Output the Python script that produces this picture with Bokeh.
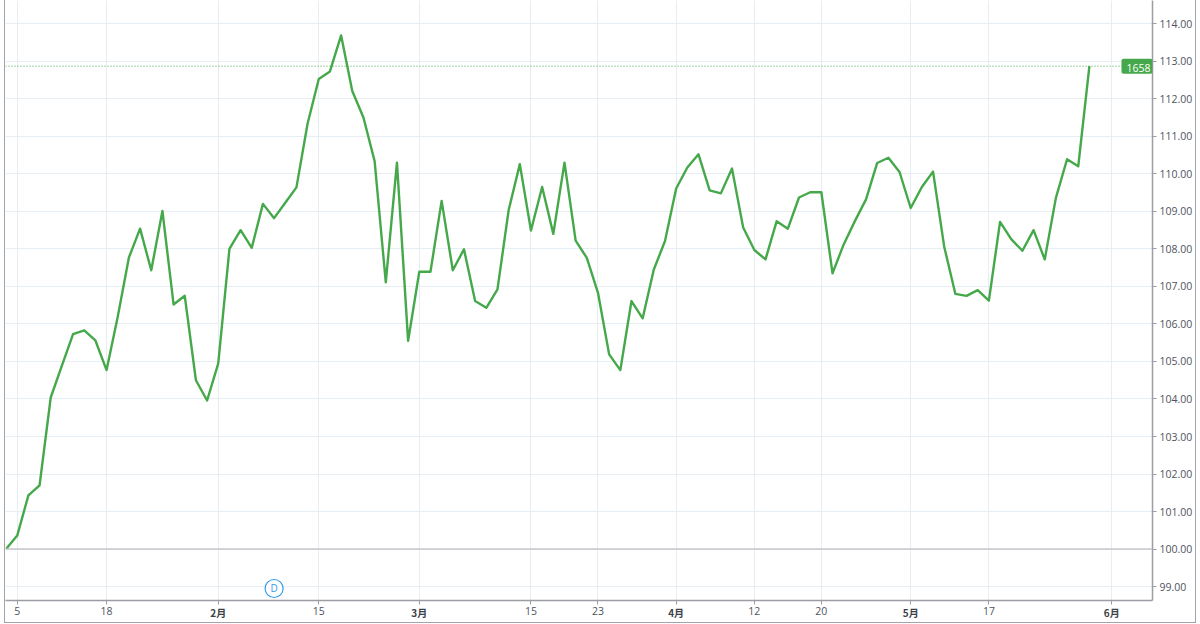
import pandas as pd
from bokeh.plotting import figure
from bokeh.models import FixedTicker, Range1d, Span, Label, NumeralTickFormatter, LinearAxis
from bokeh.core.properties import value
from bokeh.embed import file_html
from bokeh.resources import INLINE

# ---------------- data ----------------
jp_holidays = ["2021-01-11", "2021-02-11", "2021-02-23", "2021-04-29",
               "2021-05-03", "2021-05-04", "2021-05-05"]
calendar = [d.strftime("%Y-%m-%d") for d in pd.bdate_range("2021-01-04", "2021-06-04")
            if d.strftime("%Y-%m-%d") not in jp_holidays]

values = [100.00, 100.36, 101.43, 101.70, 104.04, 104.89, 105.73, 105.83, 105.56, 104.77,
          106.19, 107.77, 108.54, 107.43, 109.01, 106.52, 106.75, 104.50, 103.96, 104.95,
          108.00, 108.50, 108.03, 109.20, 108.82, 109.23, 109.64, 111.34, 112.53, 112.73,
          113.69, 112.21, 111.50, 110.34, 107.11, 110.30, 105.55, 107.39, 107.39, 109.28,
          107.43, 107.99, 106.61, 106.43, 106.92, 109.03, 110.26, 108.49, 109.65, 108.40,
          110.30, 108.22, 107.76, 106.83, 105.19, 104.77, 106.61, 106.15, 107.45, 108.21,
          109.61, 110.17, 110.52, 109.56, 109.48, 110.14, 108.57, 107.97, 107.72, 108.74,
          108.54, 109.37, 109.51, 109.51, 107.35, 108.12, 108.74, 109.32, 110.29, 110.43,
          110.05, 109.09, 109.65, 110.06, 108.06, 106.80, 106.75, 106.90, 106.62, 108.72,
          108.26, 107.95, 108.50, 107.72, 109.36, 110.39, 110.20, 112.87]
dates = calendar[:len(values)]

tick_dates = ["2021-01-05", "2021-01-18", "2021-02-01", "2021-02-15", "2021-03-01",
              "2021-03-15", "2021-03-23", "2021-04-01", "2021-04-12", "2021-04-20",
              "2021-05-06", "2021-05-17", "2021-06-01"]
tick_labels = ["5", "18", "2月", "15", "3月", "15", "23", "4月", "12", "20", "5月", "17", "6月"]
month_labels = ["2月", "3月", "4月", "5月", "6月"]

y_ticks = list(range(99, 115))
symbol = "1658"
event_date = "2021-02-08"
event_text = "D"

# ---------------- layout / styles ----------------
X_START, X_END = -0.05, 102.65
Y_START, Y_END = 98.63, 114.62
GREEN = "#45a84a"
GRID = "#e6eef3"
AXIS = "#9c9ca4"
LABEL = "#50535e"
FONT = "Open Sans"
CJK = "Noto Sans CJK JP"

xs = list(range(len(values)))
tick_idx = [calendar.index(d) for d in tick_dates]
mon_idx = [i for i, t in zip(tick_idx, tick_labels) if t in month_labels]
event_idx = calendar.index(event_date)

p = figure(frame_width=1147, frame_height=600, output_backend="svg",
           toolbar_location=None, y_axis_location="right",
           x_range=Range1d(X_START, X_END), y_range=Range1d(Y_START, Y_END),
           min_border_left=0, min_border_top=0, min_border_right=43, min_border_bottom=21)
p.margin = (0, 0, 0, 4)
p.styles = {"border-left": "1.5px solid #a3a3ab",
            "border-right": "1.5px solid #a3a3ab",
            "border-bottom": "1.5px solid #a3a3ab"}
p.background_fill_color = "white"
p.border_fill_color = "white"
p.outline_line_color = None

# grid
p.xgrid.ticker = FixedTicker(ticks=tick_idx)
p.ygrid.ticker = FixedTicker(ticks=y_ticks)
p.xgrid.grid_line_color = GRID
p.ygrid.grid_line_color = GRID

# y axis (right)
ya = p.yaxis[0]
ya.ticker = FixedTicker(ticks=y_ticks)
ya.formatter = NumeralTickFormatter(format="0.00")
ya.axis_line_color = AXIS
ya.axis_line_width = 1.5
ya.major_tick_line_color = AXIS
ya.major_tick_out = 4
ya.major_tick_in = 0
ya.minor_tick_line_color = None
ya.major_label_text_font = FONT
ya.major_label_text_font_size = "10.5px"
ya.major_label_text_color = LABEL
ya.major_label_standoff = 3

# x axis (bottom) - day labels and all tick marks
xa = p.xaxis[0]
xa.ticker = FixedTicker(ticks=tick_idx)
xa.major_label_overrides = {i: ("" if t in month_labels else t) for i, t in zip(tick_idx, tick_labels)}
xa.axis_line_color = AXIS
xa.axis_line_width = 1.5
xa.major_tick_line_color = AXIS
xa.major_tick_out = 4
xa.major_tick_in = 0
xa.minor_tick_line_color = None
xa.major_label_text_font = FONT
xa.major_label_text_font_size = "10.5px"
xa.major_label_text_color = LABEL
xa.major_label_standoff = 2

# month labels in bold, drawn by a second axis pulled up onto the first
ma = LinearAxis(ticker=FixedTicker(ticks=mon_idx),
                major_label_overrides={i: t for i, t in zip(tick_idx, tick_labels) if t in month_labels})
ma.axis_line_color = None
ma.major_tick_line_color = None
ma.minor_tick_line_color = None
ma.major_tick_out = 0
ma.major_tick_in = 0
ma.major_label_text_font = CJK
ma.major_label_text_font_size = "10px"
ma.major_label_text_font_style = "bold"
ma.major_label_text_color = "#3c3f48"
ma.major_label_standoff = -13
p.add_layout(ma, "below")

# baseline at 100
p.add_layout(Span(location=values[0], dimension="width", line_color="#c6c6cc", line_width=1.5))

# last-value dotted line
p.add_layout(Span(location=values[-1], dimension="width", line_color=GREEN,
                  line_width=1, line_dash="1 2"))

# main line
p.line(xs, values, line_color=GREEN, line_width=2.4, line_join="round")

# last value badge
p.add_layout(Label(x=X_END, y=values[-1], text=symbol, text_align="right",
                   text_baseline="middle", text_font=FONT, text_font_size="10.5px",
                   text_color="white", background_fill_color=GREEN,
                   padding=(5, 2, 5, 2), border_radius=2))

# event marker
ev_y = Y_START + 0.32
p.scatter([event_idx], [ev_y], marker="circle", size=18, fill_color="white",
          line_color="#2f9cf0", line_width=1.2)
p.text([event_idx], [ev_y], text=[event_text], text_align="center", text_baseline="middle",
       text_font=value(FONT), text_font_size="10px", text_color="#2f9cf0")

open("out.html", "w").write(file_html(p, INLINE))
